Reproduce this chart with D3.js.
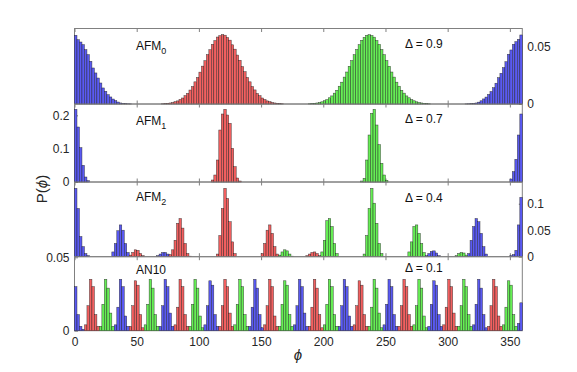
<!DOCTYPE html>
<html><head><meta charset="utf-8">
<script src="https://cdn.jsdelivr.net/npm/d3@7"></script>
<style>
body{margin:0;background:#fff}
svg{display:block}
text{font-family:"Liberation Sans",Arial,sans-serif}
</style>
</head><body>
<svg id="chart" width="577" height="372"></svg>
<script>
// ---------------- data ----------------
const binWidth = 2;                       // degrees per histogram bin
const xTicks = [0, 50, 100, 150, 200, 250, 300, 350];
const panelNames = ["AFM", "AFM", "AFM", "AN10"];
const panelSubs = ["0", "1", "2", ""];
const deltas = ["0.9", "0.7", "0.4", "0.1"];
const yMax = [0.0654, 0.234, 0.141, 0.0504];
const yTicks = [[0, 0.05], [0, 0.1, 0.2], [0, 0.05, 0.1], [0, 0.05]];
const yTickLabels = [["0", "0.05"], ["0", "0.1", "0.2"], ["0", "0.05", "0.1"], ["0", "0.05"]];
const yTickSide = ["right", "left", "right", "left"];

// each segment: colour key, first bin start (deg), bin heights
const afm0Segments = [
  {c: "b", s: 0, v: [0.0595, 0.0557, 0.0537, 0.0514, 0.0471, 0.0428, 0.0370, 0.0312, 0.0269, 0.0225, 0.0182, 0.0139, 0.0110, 0.0081, 0.0061, 0.0043, 0.0029, 0.0017, 0.0009, 0.0005, 0.0003, 0.0002, 0.0001]},
  {c: "b", s: 314, v: [0.0001, 0.0002, 0.0003, 0.0005, 0.0009, 0.0016, 0.0028, 0.0044, 0.0060, 0.0083, 0.0108, 0.0141, 0.0180, 0.0228, 0.0266, 0.0315, 0.0366, 0.0431, 0.0468, 0.0517, 0.0540, 0.0560, 0.0598]},
  {c: "r", s: 70, v: [0.0002, 0.0004, 0.0006, 0.0009, 0.0013, 0.0020, 0.0027, 0.0039, 0.0052, 0.0072, 0.0092, 0.0121, 0.0151, 0.0192, 0.0230, 0.0276, 0.0328, 0.0375, 0.0428, 0.0470, 0.0517, 0.0549, 0.0580, 0.0592, 0.0601, 0.0596, 0.0576, 0.0553, 0.0513, 0.0475, 0.0424, 0.0379, 0.0324, 0.0280, 0.0230, 0.0192, 0.0151, 0.0122, 0.0091, 0.0072, 0.0052, 0.0039, 0.0027, 0.0020, 0.0013, 0.0009, 0.0006, 0.0004, 0.0002]},
  {c: "g", s: 188, v: [0.0002, 0.0004, 0.0006, 0.0009, 0.0013, 0.0019, 0.0028, 0.0038, 0.0054, 0.0070, 0.0094, 0.0119, 0.0154, 0.0189, 0.0233, 0.0277, 0.0327, 0.0376, 0.0427, 0.0472, 0.0514, 0.0552, 0.0577, 0.0595, 0.0600, 0.0593, 0.0579, 0.0550, 0.0516, 0.0472, 0.0427, 0.0376, 0.0327, 0.0277, 0.0233, 0.0189, 0.0154, 0.0119, 0.0094, 0.0070, 0.0054, 0.0038, 0.0028, 0.0019, 0.0013, 0.0009, 0.0006, 0.0004, 0.0002]}
];

const afm1Segments = [
  {c: "b", s: 0, v: [0.218, 0.165, 0.103, 0.050, 0.015, 0.004]},
  {c: "b", s: 350, v: [0.009, 0.031, 0.068, 0.141, 0.204]},
  {c: "r", s: 110, v: [0.006, 0.021, 0.066, 0.156, 0.204, 0.218, 0.201, 0.176, 0.101, 0.046, 0.012, 0.003]},
  {c: "g", s: 230, v: [0.003, 0.011, 0.066, 0.141, 0.206, 0.218, 0.171, 0.112, 0.056, 0.021, 0.005]}
];

const afm2Segments = [
  {c: "b", s: 0, v: [0.129, 0.091, 0.038, 0.019, 0.006, 0.002]},
  {c: "b", s: 350, v: [0.002, 0.004, 0.012, 0.060, 0.112]},
  {c: "b", s: 30, v: [0.009, 0.025, 0.049, 0.060, 0.050, 0.025, 0.008]},
  {c: "r", s: 44, v: [0.003, 0.008, 0.013, 0.012, 0.006, 0.002]},
  {c: "b", s: 66, v: [0.002, 0.005, 0.008, 0.008, 0.005, 0.002]},
  {c: "r", s: 76, v: [0.004, 0.013, 0.031, 0.063, 0.072, 0.054, 0.025, 0.006, 0.001]},
  {c: "r", s: 114, v: [0.005, 0.040, 0.091, 0.129, 0.110, 0.066, 0.028, 0.006]},
  {c: "r", s: 150, v: [0.006, 0.025, 0.050, 0.060, 0.044, 0.019, 0.005]},
  {c: "g", s: 164, v: [0.003, 0.009, 0.013, 0.011, 0.005, 0.001]},
  {c: "r", s: 186, v: [0.002, 0.005, 0.008, 0.009, 0.006, 0.002]},
  {c: "g", s: 198, v: [0.009, 0.031, 0.068, 0.072, 0.057, 0.025, 0.006]},
  {c: "g", s: 232, v: [0.005, 0.040, 0.091, 0.129, 0.101, 0.063, 0.025, 0.006]},
  {c: "g", s: 268, v: [0.009, 0.028, 0.057, 0.060, 0.044, 0.025, 0.008]},
  {c: "b", s: 282, v: [0.002, 0.006, 0.010, 0.011, 0.007, 0.002]},
  {c: "g", s: 306, v: [0.002, 0.006, 0.008, 0.007, 0.003]},
  {c: "b", s: 316, v: [0.006, 0.031, 0.057, 0.072, 0.066, 0.044, 0.019, 0.005]}
];

const an10Segments = [
  {c: "b", s: 0, v: [0.030, 0.011, 0.003, 0.001]},
  {c: "r", s: 8, v: [0.004, 0.017, 0.035, 0.030, 0.011, 0.003]},
  {c: "g", s: 20, v: [0.003, 0.018, 0.035, 0.029, 0.012, 0.003]},
  {c: "b", s: 32, v: [0.004, 0.016, 0.035, 0.030, 0.010, 0.003]},
  {c: "r", s: 44, v: [0.003, 0.017, 0.034, 0.031, 0.011, 0.002]},
  {c: "g", s: 56, v: [0.004, 0.018, 0.035, 0.029, 0.011, 0.003]},
  {c: "b", s: 68, v: [0.003, 0.017, 0.035, 0.030, 0.012, 0.003]},
  {c: "r", s: 80, v: [0.004, 0.016, 0.035, 0.030, 0.011, 0.003]},
  {c: "g", s: 92, v: [0.003, 0.018, 0.035, 0.029, 0.010, 0.002]},
  {c: "b", s: 104, v: [0.004, 0.017, 0.034, 0.031, 0.011, 0.003]},
  {c: "r", s: 116, v: [0.003, 0.017, 0.035, 0.030, 0.012, 0.003]},
  {c: "g", s: 128, v: [0.004, 0.018, 0.035, 0.030, 0.011, 0.003]},
  {c: "b", s: 140, v: [0.003, 0.016, 0.035, 0.029, 0.011, 0.002]},
  {c: "r", s: 152, v: [0.004, 0.017, 0.035, 0.030, 0.010, 0.003]},
  {c: "g", s: 164, v: [0.003, 0.018, 0.034, 0.031, 0.011, 0.003]},
  {c: "b", s: 176, v: [0.004, 0.017, 0.035, 0.030, 0.012, 0.003]},
  {c: "r", s: 188, v: [0.003, 0.016, 0.035, 0.029, 0.011, 0.002]},
  {c: "g", s: 200, v: [0.004, 0.018, 0.035, 0.030, 0.011, 0.003]},
  {c: "b", s: 212, v: [0.003, 0.017, 0.035, 0.030, 0.010, 0.003]},
  {c: "r", s: 224, v: [0.004, 0.017, 0.034, 0.031, 0.011, 0.003]},
  {c: "g", s: 236, v: [0.003, 0.016, 0.035, 0.029, 0.012, 0.002]},
  {c: "b", s: 248, v: [0.004, 0.018, 0.035, 0.030, 0.011, 0.003]},
  {c: "r", s: 260, v: [0.003, 0.017, 0.035, 0.030, 0.011, 0.003]},
  {c: "g", s: 272, v: [0.004, 0.017, 0.035, 0.029, 0.010, 0.002]},
  {c: "b", s: 284, v: [0.003, 0.018, 0.034, 0.031, 0.011, 0.003]},
  {c: "r", s: 296, v: [0.004, 0.016, 0.035, 0.030, 0.012, 0.003]},
  {c: "g", s: 308, v: [0.003, 0.017, 0.035, 0.030, 0.011, 0.003]},
  {c: "b", s: 320, v: [0.004, 0.018, 0.035, 0.029, 0.011, 0.002]},
  {c: "r", s: 332, v: [0.003, 0.017, 0.035, 0.030, 0.010, 0.003]},
  {c: "g", s: 344, v: [0.004, 0.016, 0.034, 0.031, 0.011, 0.003]},
  {c: "b", s: 356, v: [0.005, 0.019]}
];

const panelSegments = [afm0Segments, afm1Segments, afm2Segments, an10Segments];
const barColors = {b: "#5a5af2", r: "#f26060", g: "#66ee55"};

// ---------------- layout ----------------
const svg = d3.select("#chart");
const bounds = [28.5, 104, 182, 256.7, 330.7];
const labelBase = [50, 125, 200.5, 274.3];
const deltaBase = [48.3, 122.7, 201.5, 272.3];
const axisColor = "#808080";
const textColor = "#262626";

const x = d3.scaleLinear().domain([0, 360]).range([74.5, 522.3]);

panelSegments.forEach((segs, i) => {
  const top = bounds[i], bot = bounds[i + 1];
  const y = d3.scaleLinear().domain([0, yMax[i]]).range([bot, top]);
  const g = svg.append("g");

  // frame
  g.append("rect")
    .attr("x", x(0)).attr("y", top)
    .attr("width", x(360) - x(0)).attr("height", bot - top)
    .attr("fill", "none").attr("stroke", axisColor).attr("stroke-width", 1);

  // x ticks (inward) at bottom and top
  const xb = g.append("g").attr("transform", `translate(0,${bot})`)
    .call(d3.axisBottom(x).tickValues(xTicks).tickSize(-3.5).tickPadding(7)
      .tickFormat(i === 3 ? d3.format("d") : ""));
  const xt = g.append("g").attr("transform", `translate(0,${top})`)
    .call(d3.axisTop(x).tickValues(xTicks).tickSize(-3.5).tickFormat(""));
  [xb, xt].forEach(a => {
    a.select(".domain").remove();
    a.selectAll(".tick line").attr("stroke", axisColor);
    a.selectAll("text").attr("fill", textColor).attr("font-size", 12)
      .attr("font-family", '"Liberation Sans", Arial, sans-serif');
  });

  // y axis (inward ticks)
  const yAx = (yTickSide[i] === "right" ? d3.axisRight(y) : d3.axisLeft(y))
    .tickValues(yTicks[i]).tickSize(-3.5).tickPadding(5)
    .tickFormat((d, k) => yTickLabels[i][k]);
  const ya = g.append("g")
    .attr("transform", `translate(${yTickSide[i] === "right" ? x(360) : x(0)},0)`)
    .call(yAx);
  ya.select(".domain").remove();
  ya.selectAll(".tick line").attr("stroke", axisColor);
  ya.selectAll("text").attr("fill", textColor).attr("font-size", 12)
    .attr("font-family", '"Liberation Sans", Arial, sans-serif');

  // bars
  const bars = [];
  segs.forEach(seg => seg.v.forEach((v, k) => bars.push({c: seg.c, s: seg.s + k * binWidth, v})));
  g.append("g").selectAll("rect").data(bars).join("rect")
    .attr("x", d => x(d.s))
    .attr("width", d => x(d.s + binWidth) - x(d.s))
    .attr("y", d => y(d.v))
    .attr("height", d => y(0) - y(d.v))
    .attr("fill", d => barColors[d.c])
    .attr("stroke", "#1a1a1a").attr("stroke-width", 0.5).attr("stroke-opacity", 0.8);

  // panel labels
  const t = g.append("text").attr("x", 136).attr("y", labelBase[i])
    .attr("font-size", 12).attr("fill", "#111");
  t.append("tspan").text(panelNames[i]);
  if (panelSubs[i]) t.append("tspan").attr("font-size", 9).attr("dy", 4).text(panelSubs[i]);
  g.append("text").attr("x", 405).attr("y", deltaBase[i])
    .attr("font-size", 12).attr("fill", "#111").text("\u0394 = " + deltas[i]);
});

// axis titles
const yl = svg.append("text")
  .attr("transform", "translate(47,189) rotate(-90)")
  .attr("text-anchor", "middle").attr("font-size", 15).attr("fill", textColor);
yl.append("tspan").text("P(");
yl.append("tspan").attr("font-style", "italic").text("\u03d5");
yl.append("tspan").text(")");

svg.append("text").attr("x", 298).attr("y", 360).attr("text-anchor", "middle")
  .attr("font-size", 15).attr("font-style", "italic").attr("fill", textColor).text("\u03d5");
</script>
</body></html>
